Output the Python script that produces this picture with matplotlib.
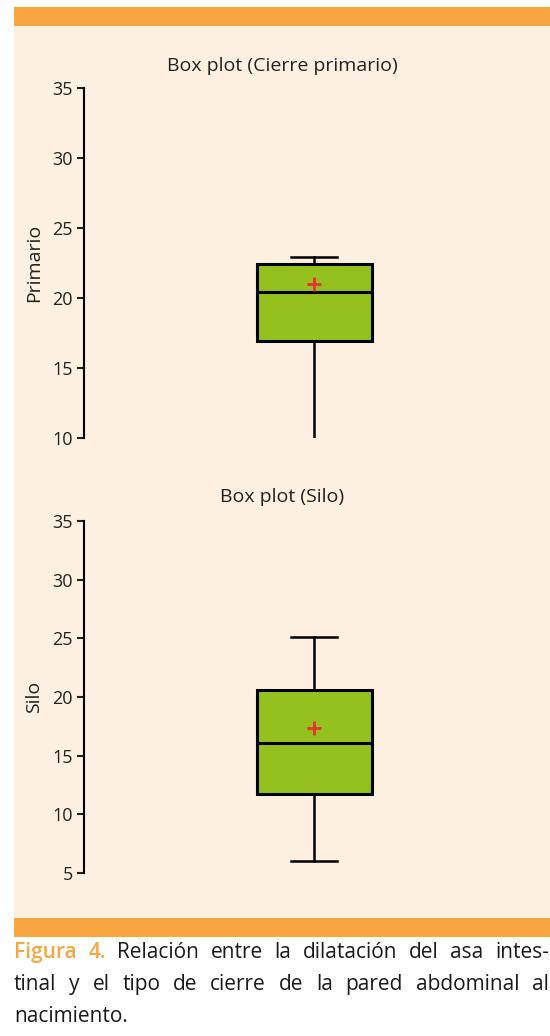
import matplotlib
matplotlib.use("Agg")
import matplotlib.pyplot as plt
from matplotlib.patches import Rectangle

# box plot summaries
groups = ["Primario", "Silo"]
titles = ["Box plot (Cierre primario)", "Box plot (Silo)"]
whislo = [10.0, 6.0]
q1 = [16.9, 11.7]
med = [20.4, 16.1]
q3 = [22.4, 20.6]
whishi = [22.9, 25.1]
means = [21.0, 17.4]
ylims = [(10, 35), (5, 35)]
yticks = [[10, 15, 20, 25, 30, 35], [5, 10, 15, 20, 25, 30, 35]]

caption_lines = [
    ["Figura", "4.", "Relación", "entre", "la", "dilatación", "del", "asa", "intes-"],
    ["tinal", "y", "el", "tipo", "de", "cierre", "de", "la", "pared", "abdominal", "al"],
    ["nacimiento."],
]

cream = "#fdf0e1"
orange = "#f7a640"
green = "#95c11f"
red = "#e8322d"

plt.rcParams["font.family"] = ["Open Sans", "DejaVu Sans"]

W, H = 550, 1036
fig = plt.figure(figsize=(W / 100, H / 100), dpi=100, facecolor="white")


def fig_rect(x0, y0, x1, y1, color):
    # pixel box (top-left origin) -> figure fraction rectangle
    fig.add_artist(Rectangle((x0 / W, 1 - y1 / H), (x1 - x0) / W, (y1 - y0) / H,
                             transform=fig.transFigure, facecolor=color,
                             edgecolor="none", zorder=0))


fig_rect(14, 7, 550, 26, orange)
fig_rect(14, 26, 550, 918, cream)
fig_rect(14, 918, 550, 937, orange)

# axes positions in pixels: (top, bottom)
axes_px = [(88, 438), (521, 873)]
title_y = [66, 497]

for i in range(2):
    top, bot = axes_px[i]
    ax = fig.add_axes([84 / W, 1 - bot / H, (544 - 84) / W, (bot - top) / H])
    ax.set_facecolor("none")
    stats = [dict(whislo=whislo[i], q1=q1[i], med=med[i], q3=q3[i],
                  whishi=whishi[i], mean=means[i], fliers=[])]
    res = ax.bxp(stats, positions=[1], widths=0.25, capwidths=0.1,
                 showmeans=True, patch_artist=True,
                 boxprops=dict(facecolor=green, edgecolor="black", linewidth=2.2),
                 medianprops=dict(color="black", linewidth=2.2),
                 whiskerprops=dict(color="black", linewidth=1.8),
                 capprops=dict(color="black", linewidth=1.8),
                 meanprops=dict(marker="+", markeredgecolor=red,
                                markersize=10, markeredgewidth=2))
    if whislo[i] <= ylims[i][0]:
        res["caps"][0].set_visible(False)
    ax.set_xlim(0.5, 1.5)
    ax.set_ylim(*ylims[i])
    ax.set_yticks(yticks[i])
    ax.set_xticks([])
    for s in ["top", "right", "bottom"]:
        ax.spines[s].set_visible(False)
    ax.spines["left"].set_linewidth(1.5)
    ax.tick_params(axis="y", length=5, width=1.5, labelsize=13, pad=3,
                   colors="#222222")
    ax.set_ylabel(groups[i], fontsize=14, labelpad=7, color="#222222")
    fig.text(282 / W, 1 - title_y[i] / H, titles[i], ha="center", va="center",
             fontsize=14, color="#222222")

# caption, justified like the printed figure
fig.canvas.draw()
renderer = fig.canvas.get_renderer()
line_y = [958, 990, 1022]
x_left, x_right = 14, 549
for li, words in enumerate(caption_lines):
    texts = []
    for wi, w in enumerate(words):
        lead = li == 0 and wi < 2
        t = fig.text(0, 1 - line_y[li] / H, w, fontsize=15,
                     color=orange if lead else "#1a1a1a",
                     fontweight="semibold" if lead else "normal",
                     ha="left", va="baseline")
        texts.append(t)
    widths = [t.get_window_extent(renderer).width for t in texts]
    if li < 2 and len(words) > 1:
        gap = (x_right - x_left - sum(widths)) / (len(words) - 1)
    else:
        gap = 5
    x = x_left
    for t, w in zip(texts, widths):
        t.set_x(x / W)
        x += w + gap

fig.savefig("out.png", dpi=100, facecolor="white")
